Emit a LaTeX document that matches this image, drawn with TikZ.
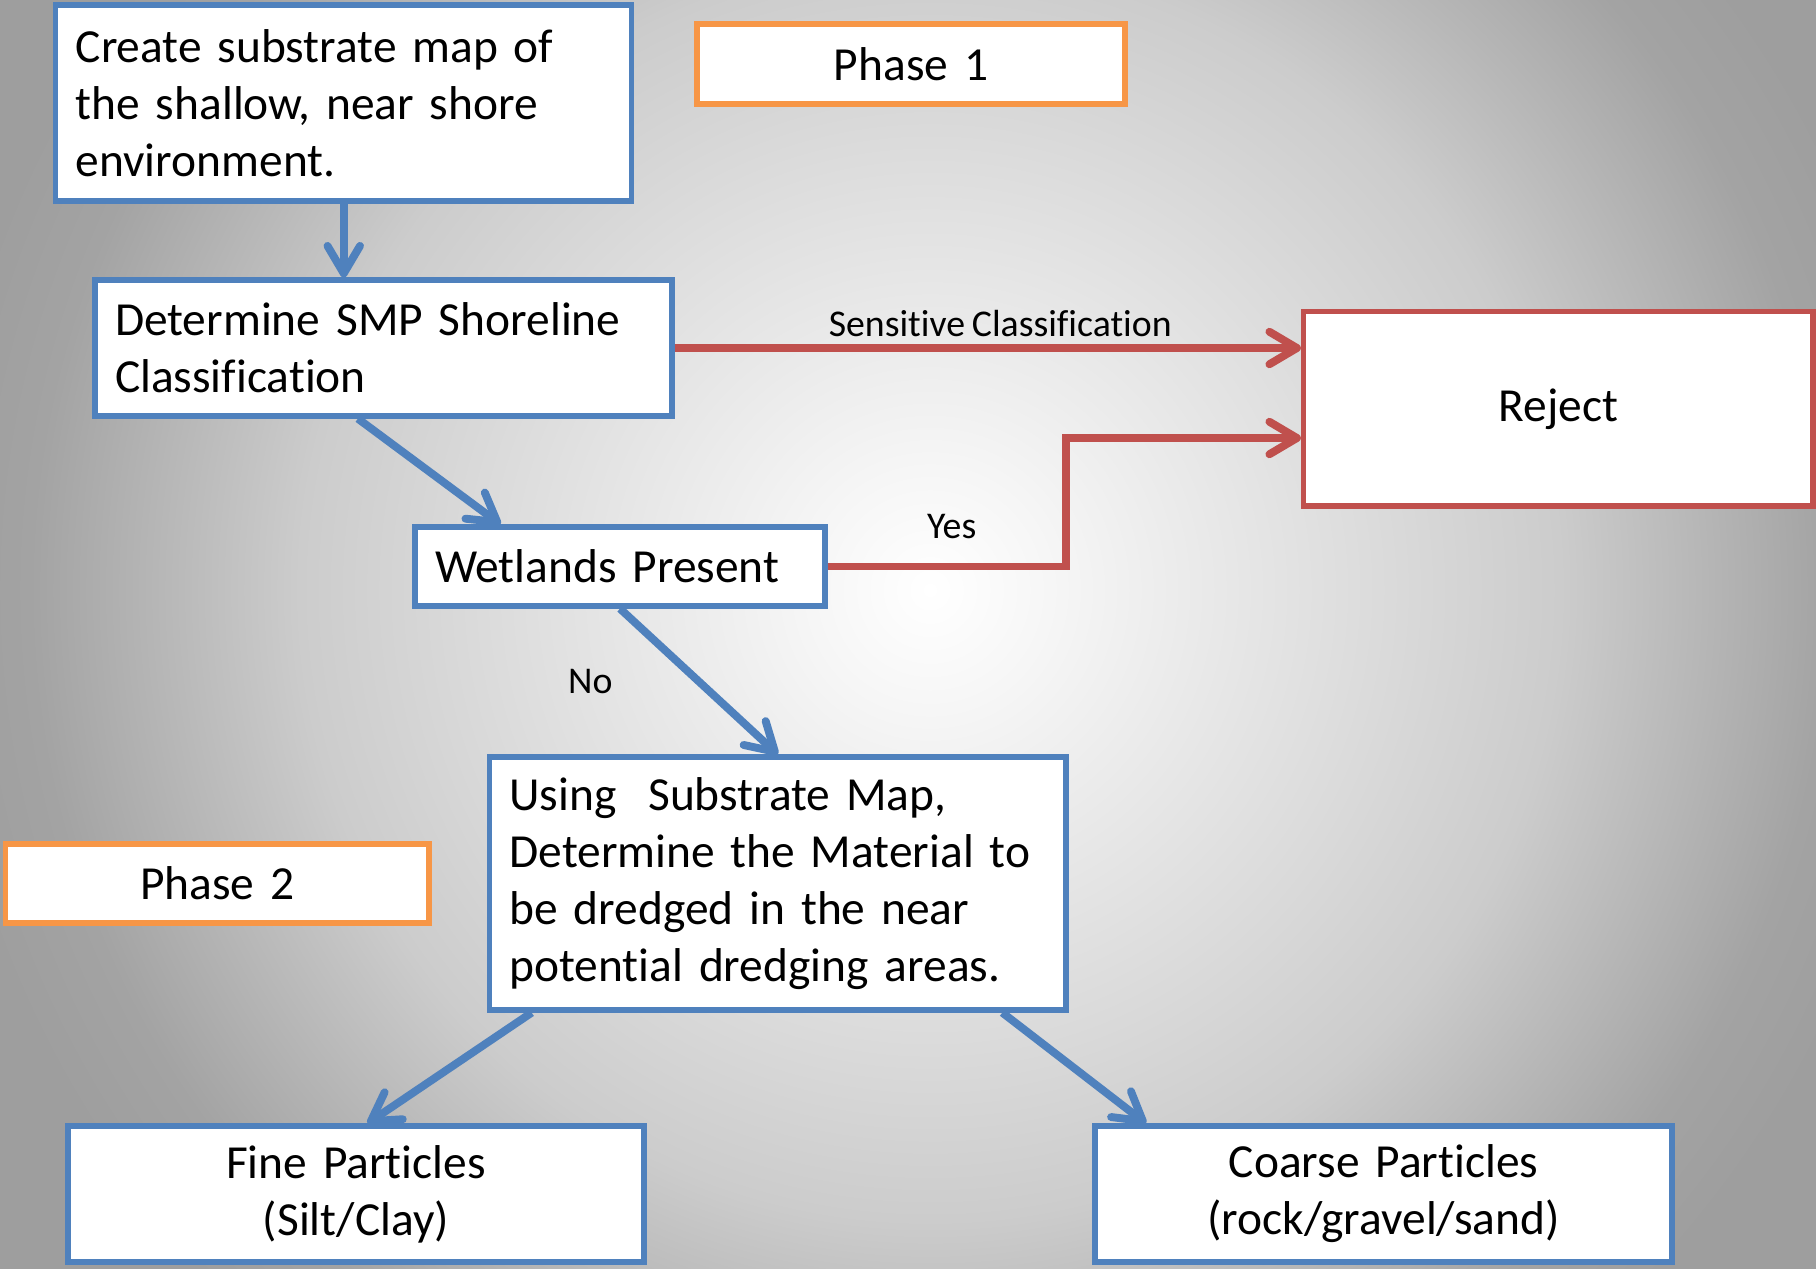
\documentclass[tikz,border=0pt]{standalone}
\usepackage{fontspec}
\setmainfont{Carlito}[Ligatures=NoCommon]
\usepackage[svgnames]{xcolor}
\usepackage{tikz}
\usetikzlibrary{arrows.meta,calc}

\definecolor{boxblue}{HTML}{4F81BD}
\definecolor{boxred}{HTML}{C0504D}
\definecolor{boxorange}{HTML}{F79646}
\definecolor{bgcore}{HTML}{F6F6F6}
\definecolor{bgmid}{HTML}{CCCCCC}
\definecolor{bgedge}{HTML}{A3A3A3}
\definecolor{bgcorner}{HTML}{9E9E9E}
\pgfdeclareradialshading{slideglow}{\pgfpoint{0bp}{0bp}}{color(0bp)=(white); color(3bp)=(bgcore); color(15.75bp)=(bgmid); color(22.5bp)=(bgedge); color(25bp)=(bgcorner); color(50bp)=(bgcorner)}
\DeclareRobustCommand{\tightwords}{\spaceskip=0.18em\relax}

\begin{document}
\begin{tikzpicture}[font=\fontsize{27}{32.5}\selectfont\tightwords, >={Straight Barb[length=5.5mm,width=6.5mm,round]},
	stepbox/.style={draw=boxblue, line width=3pt, fill=white, inner xsep=4mm, inner ysep=0pt, align=left},
	phasebox/.style={stepbox, draw=boxorange, align=center},
	flow/.style={->, draw=boxblue, line width=4.5pt},
	rejectflow/.style={->, draw=boxred, line width=4.5pt},
	edgelabel/.style={font=\fontsize{21.5}{25}\selectfont\tightwords, inner sep=1.5mm}]
	\useasboundingbox (0,0) rectangle (36.32,-25.36);
	\begin{scope}
		\clip (0,0) rectangle (36.32,-25.36);
		\shade[shading=slideglow] (-1.4,8.2) rectangle (38.6,-31.8);
	\end{scope}
	\node[stepbox, text width=10.72cm, minimum height=3.92cm] (survey) at (6.875,-2.06) {Create substrate map of\\the shallow, near shore\\environment.};
	\node[stepbox, text width=10.74cm, minimum height=2.72cm] (smp) at (7.67,-6.96) {Determine SMP Shoreline\\Classification};
	\node[phasebox, text width=7.76cm, minimum height=1.6cm] (phaseone) at (18.22,-1.28) {Phase 1};
	\node[stepbox, text width=7.4cm, minimum height=1.58cm] (wetlands) at (12.4,-11.33) {Wetlands Present};
	\node[stepbox, draw=boxred, align=center, text width=9.39cm, minimum height=3.89cm] (reject) at (31.165,-8.175) {Reject};
	\node[stepbox, text width=10.73cm, minimum height=5.06cm] (material) at (15.555,-17.67) {Using\ \ Substrate Map,\\Determine the Material to\\be dredged in the near\\potential dredging areas.};
	\node[phasebox, text width=7.67cm, minimum height=1.58cm] (phasetwo) at (4.346,-17.67) {Phase 2};
	\node[stepbox, align=center, text width=10.72cm, minimum height=2.72cm, yshift=-1mm] (fine) at (7.12,-23.78) {Fine Particles\\(Silt/Clay)};
	\node[stepbox, align=center, text width=10.74cm, minimum height=2.72cm, yshift=-1mm] (coarse) at (27.67,-23.78) {Coarse Particles\\(rock/gravel/sand)};
	\draw[flow] (survey.south) -- (survey.south |- smp.north);
	\draw[flow] ($(smp.south west)!0.456!(smp.south east)$) -- ($(wetlands.north west)!0.212!(wetlands.north east)$);
	\draw[flow] (wetlands.south) -- (material.north) node[edgelabel, midway, left=1.5cm] {No};
	\draw[flow] ($(material.south west)!0.077!(material.south east)$) -- ($(fine.north west)!0.52!(fine.north east)$);
	\draw[flow] ($(material.south west)!0.886!(material.south east)$) -- ($(coarse.north west)!0.092!(coarse.north east)$);
	\draw[rejectflow] (smp.east) -- (smp.east -| reject.west) node[edgelabel, pos=0.52, above] {Sensit\kern0pt ive Classification};
	\draw[rejectflow] (wetlands.east) -- ++(4.76,0) node[edgelabel, midway, above=3.3mm, xshift=1mm] {Yes} |- ([yshift=-0.585cm]reject.west);
\end{tikzpicture}
\end{document}
